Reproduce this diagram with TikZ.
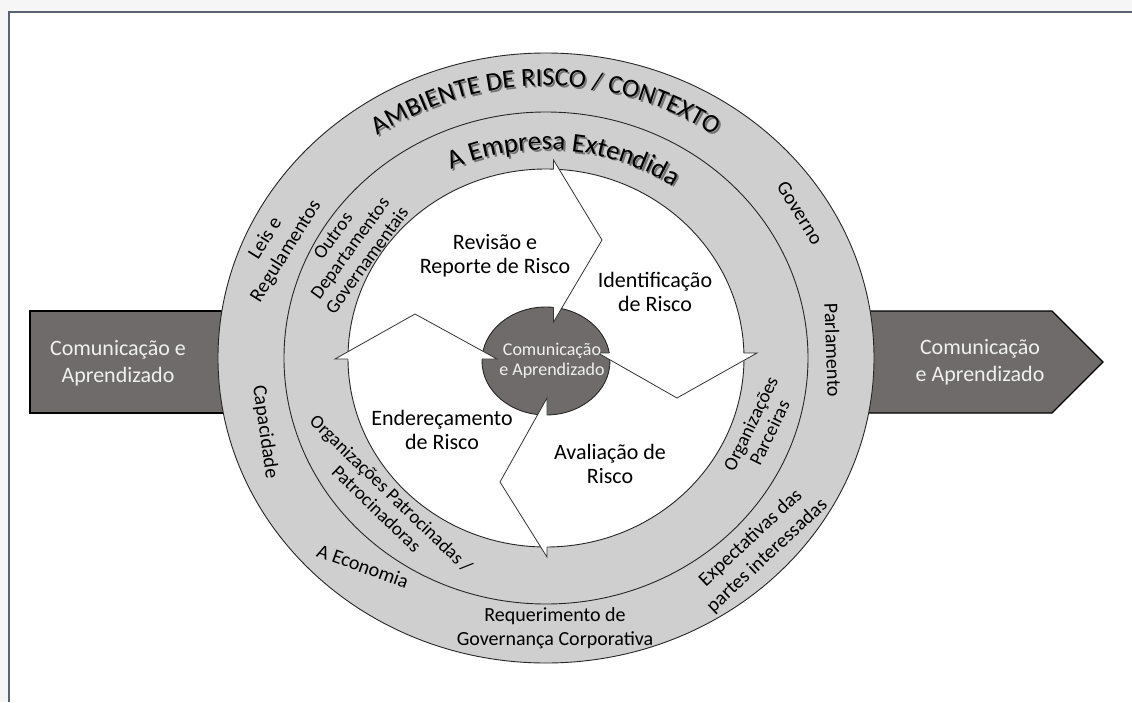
\documentclass[tikz,border=0pt]{standalone}
\usepackage{fontspec}
\setmainfont{Carlito}
\usepackage{xcolor}
\usepackage{tikz}
\usetikzlibrary{decorations.text}

\definecolor{anelcinza}{RGB}{208,207,208}
\definecolor{cinzaescuro}{RGB}{112,107,107}
\definecolor{moldura}{RGB}{91,99,115}
\definecolor{fundo}{RGB}{246,246,246}

\begin{document}
\begin{tikzpicture}[
	x=1pt, y=1pt,
	% estilos dos contornos e das caixas
	contorno/.style={draw=black!85, line width=0.9pt},
	caixa/.style={fill=cinzaescuro, draw=black, line width=1.3pt},
	borda/.style={draw=black!80, line width=0.8pt, line join=miter},
	% estilos dos textos
	textocaixa/.style={text=white!94!black, align=center, font=\fontsize{22}{27}\selectfont},
	etapa/.style={align=center, font=\fontsize{22}{24}\selectfont},
	anel/.style={align=center, font=\fontsize{20}{24}\selectfont},
	anelint/.style={align=center, font=\fontsize{19}{21}\selectfont}
	]
	
	% --- FUNDO E MOLDURA ---
	\useasboundingbox (-546,-344) rectangle (586,358);
	\fill[fundo] (-546,-344) rectangle (586,358);
	\fill[white] (-537,-344) rectangle (586,346);
	\draw[moldura, line width=1.5pt] (-537,-344) -- (-537,346) -- (586,346);
	
	% --- SETAS LATERAIS ---
	\draw[caixa] (-516,47) rectangle (-300,-55);
	\draw[caixa] (300,47) -- (506,47) -- (557,-4) -- (506,-55) -- (300,-55) -- cycle;
	
	% --- ELIPSES ---
	\coordinate (c) at (0,0);
	\draw[contorno, fill=anelcinza] (c) ellipse [x radius=328, y radius=305];
	\draw[contorno] (c) ellipse [x radius=262, y radius=246];
	\draw[contorno, fill=white] (c) ellipse [x radius=198, y radius=189];
	\draw[contorno, fill=cinzaescuro] (0,-3) ellipse [x radius=64, y radius=54];
	
	% --- PONTAS DAS SETAS DO CICLO ---
	% topo
	\coordinate (t1) at (7.5,198); \coordinate (k1) at (56,118); \coordinate (i1) at (7.5,36);
	\coordinate (e1) at (7.5,188.9); \coordinate (n1) at (7.5,50.6);
	% direita
	\coordinate (t2) at (211,5); \coordinate (k2) at (131,-40); \coordinate (i2) at (52,5);
	\coordinate (e2) at (197.9,5); \coordinate (n2) at (63.3,5);
	% base
	\coordinate (t3) at (1,-199); \coordinate (k3) at (-46,-124); \coordinate (i3) at (1,-40);
	\coordinate (e3) at (1,-189); \coordinate (n3) at (1,-57);
	% esquerda
	\coordinate (t4) at (-211,-1); \coordinate (k4) at (-131,44); \coordinate (i4) at (-49,-1);
	\coordinate (e4) at (-198,-1); \coordinate (n4) at (-64,-1);
	
	\foreach \s in {1,...,4} {
		\fill[white] (t\s) -- (k\s) -- (i\s) -- cycle;
		\draw[borda] (e\s) -- (t\s) -- (k\s) -- (i\s) -- (n\s);
	}
	
	% --- TITULOS CURVOS (com sombra) ---
	\begin{scope}[shift={(1.8,-1.8)}]
		\path[decorate, decoration={text along path, text align=center, text color=black!55,
			text={|\fontsize{26}{26}\selectfont|AMBIENTE DE RISCO / CONTEXTO}}]
			(160:292 and 272) arc[start angle=160, end angle=20, x radius=292, y radius=272];
		\path[decorate, decoration={text along path, text align=center, text color=black!55,
			text={|\fontsize{27}{27}\selectfont|A Empresa Extendida}}]
			(165:224 and 208) arc[start angle=165, end angle=5, x radius=224, y radius=208];
	\end{scope}
	\path[decorate, decoration={text along path, text align=center,
		text={|\fontsize{26}{26}\selectfont|AMBIENTE DE RISCO / CONTEXTO}}]
		(160:292 and 272) arc[start angle=160, end angle=20, x radius=292, y radius=272];
	\path[decorate, decoration={text along path, text align=center,
		text={|\fontsize{27}{27}\selectfont|A Empresa Extendida}}]
		(165:224 and 208) arc[start angle=165, end angle=5, x radius=224, y radius=208];
	
	% --- TEXTOS DAS CAIXAS ---
	\node[textocaixa] (comEsq) at (-428,-5) {Comunicação e\\Aprendizado};
	\node[textocaixa] (comDir) at (434,-4) {Comunicação\\e Aprendizado};
	
	% --- ETAPAS ---
	\node[etapa] (revisao) at (-51,102) {Revisão e\\Reporte de Risco};
	\node[etapa] (identif) at (109,66) {Identificação\\de Risco};
	\node[etapa] (enderec) at (-104,-72) {Endereçamento\\de Risco};
	\node[etapa] (avalia) at (64,-106) {Avaliação de\\Risco};
	\node[align=center, text=white!94!black, font=\fontsize{18}{20}\selectfont] (centro) at (6,-3) {Comunicação\\e Aprendizado};
	
	% --- ANEL EXTERNO ---
	\node[anel, rotate=58] (leis) at (-270,113) {Leis e\\Regulamentos};
	\node[anel, rotate=-58] (governo) at (254,145) {Governo};
	\node[anel, rotate=-88] (parlam) at (287,8) {Parlamento};
	\node[anel, rotate=-82] (capac) at (-281,-74) {Capacidade};
	\node[anel, rotate=-20] (economia) at (-183,-208) {A Economia};
	\node[anel] (requer) at (9,-270) {Requerimento de\\Governança Corporativa};
	\node[anel, rotate=43] (expect) at (213,-189) {Expectativas das\\partes interessadas};
	
	% --- ANEL INTERNO ---
	\node[anelint, rotate=54] (outros) at (-196,110) {Outros\\Departamentos\\Governamentais};
	\node[anelint, rotate=-44] (patroc) at (-162,-143) {Organizações Patrocinadas /\\Patrocinadoras};
	\node[anelint, rotate=64] (parceiras) at (214,-70) {Organizações\\Parceiras};
	
\end{tikzpicture}
\end{document}
